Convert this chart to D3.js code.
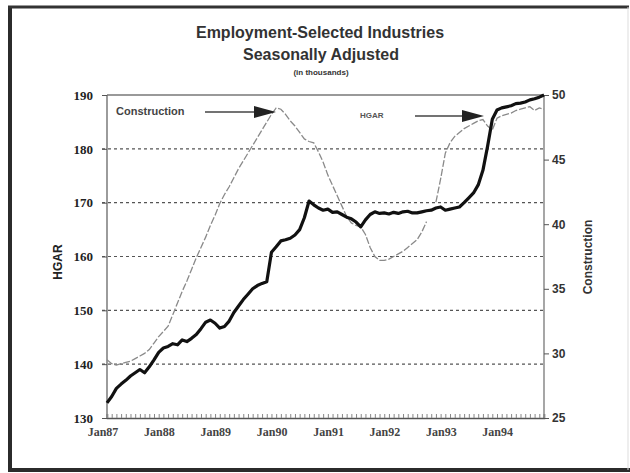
<!DOCTYPE html>
<html><head><meta charset="utf-8">
<script src="https://cdn.jsdelivr.net/npm/d3@7"></script>
<style>body{margin:0;background:#fff}svg{display:block}</style>
</head><body>
<svg id="c" width="630" height="473"></svg>
<script>
// ---- data ----
const startMonth = "1987-01";
const hgar = [132.8,134.0,135.5,136.3,137.0,137.8,138.4,139.0,138.4,139.5,140.8,142.2,
143.0,143.3,143.8,143.6,144.5,144.2,144.8,145.5,146.6,147.8,148.2,147.6,
146.7,147.0,148.0,149.6,150.8,152.0,153.0,154.0,154.6,155.0,155.3,160.8,
161.8,162.9,163.1,163.4,164.0,165.0,167.2,170.3,169.6,169.0,168.6,168.8,
168.2,168.3,167.8,167.3,167.0,166.4,165.5,166.8,167.8,168.3,168.0,168.1,
167.9,168.2,168.0,168.3,168.4,168.1,168.1,168.3,168.5,168.6,169.0,169.2,
168.6,168.8,169.0,169.2,170.0,170.9,171.8,173.3,176.0,180.5,185.5,187.2,
187.6,187.8,188.0,188.4,188.5,188.7,189.1,189.3,189.6,190.0];
const construction = [29.5,29.2,29.1,29.2,29.3,29.4,29.6,29.8,30.0,30.3,30.8,31.3,
31.7,32.1,33.0,33.9,34.8,35.6,36.5,37.4,38.2,39.0,39.9,40.7,
41.6,42.3,42.9,43.6,44.3,44.9,45.5,46.1,46.7,47.3,47.9,48.5,
49.0,48.9,48.5,48.0,47.6,47.1,46.6,46.4,46.3,45.6,44.8,43.8,
43.0,42.2,41.4,40.6,40.1,39.9,39.8,39.2,38.2,37.5,37.2,37.2,
37.3,37.5,37.7,37.9,38.2,38.5,38.8,39.4,40.2,null,41.7,43.5,
45.5,46.3,46.8,47.1,47.4,47.6,47.8,48.0,48.1,47.6,47.3,48.2,
48.4,48.5,48.6,48.8,48.9,49.0,49.1,48.8,49.0,48.9];
const xTickLabels = ["Jan87","Jan88","Jan89","Jan90","Jan91","Jan92","Jan93","Jan94"];
const leftTicks = [130,140,150,160,170,180,190];
const rightTicks = [25,30,35,40,45,50];
const titleLines = ["Employment-Selected Industries","Seasonally Adjusted"];
const subtitle = "(in thousands)";
const leftTitle = "HGAR";
const rightTitle = "Construction";

// ---- layout ----
const svg = d3.select("#c");
const L = 107, R = 544, T = 95, B = 418;
const n = hgar.length;
const x = d3.scaleLinear().domain([0, n - 1]).range([L, R]);
const yL = d3.scaleLinear().domain([130, 190]).range([B, T]);
const yR = d3.scaleLinear().domain([25, 50]).range([B, T]);

// outer frame
svg.append("line").attr("x1",10).attr("y1",6).attr("x2",10).attr("y2",470).attr("stroke","#2b2b2b").attr("stroke-width",4);
svg.append("line").attr("x1",8).attr("y1",7).attr("x2",629).attr("y2",7).attr("stroke","#333").attr("stroke-width",3);
svg.append("line").attr("x1",8).attr("y1",470).attr("x2",630).attr("y2",470).attr("stroke","#2b2b2b").attr("stroke-width",4);
svg.append("line").attr("x1",628).attr("y1",7).attr("x2",628).attr("y2",470).attr("stroke","#ddd").attr("stroke-width",1);

// title
const sans = "'Liberation Sans', Arial, sans-serif";
const serif = "'Liberation Serif', 'Times New Roman', serif";
svg.append("text").attr("x",320).attr("y",38).attr("text-anchor","middle")
  .attr("font-family",sans).attr("font-weight","bold").attr("font-size",16).attr("fill","#333").text(titleLines[0]);
svg.append("text").attr("x",321).attr("y",60).attr("text-anchor","middle")
  .attr("font-family",sans).attr("font-weight","bold").attr("font-size",16).attr("fill","#333").text(titleLines[1]);
svg.append("text").attr("x",321).attr("y",75).attr("text-anchor","middle")
  .attr("font-family",sans).attr("font-weight","bold").attr("font-size",8).attr("fill","#333").text(subtitle);

// gridlines (left axis)
svg.append("g").selectAll("line").data(leftTicks.filter(d => d > 130 && d < 190)).join("line")
  .attr("x1",102).attr("x2",R).attr("y1",d=>yL(d)).attr("y2",d=>yL(d))
  .attr("stroke","#555").attr("stroke-width",1.2).attr("stroke-dasharray","3,3");

// plot frame: top, left, right, bottom
svg.append("line").attr("x1",L).attr("x2",R).attr("y1",T).attr("y2",T).attr("stroke","#999").attr("stroke-width",2);
svg.append("line").attr("x1",L).attr("x2",L).attr("y1",T).attr("y2",B).attr("stroke","#666").attr("stroke-width",1.3);
svg.append("line").attr("x1",R).attr("x2",R).attr("y1",T).attr("y2",B).attr("stroke","#777").attr("stroke-width",1.3);

// left axis
const gl = svg.append("g").attr("transform",`translate(${L},0)`)
  .call(d3.axisLeft(yL).tickValues(leftTicks).tickSize(5).tickFormat(d3.format("d")));
gl.select(".domain").remove();
gl.selectAll("line").attr("stroke","#555");
gl.selectAll("text").attr("font-family",serif).attr("font-weight","bold").attr("font-size",13).attr("fill","#222").attr("dx",-6);

// right axis
const gr = svg.append("g").attr("transform",`translate(${R},0)`)
  .call(d3.axisRight(yR).tickValues(rightTicks).tickSize(5));
gr.select(".domain").remove();
gr.selectAll("line").attr("stroke","#555");
gr.selectAll("text").attr("font-family",sans).attr("font-weight","bold").attr("font-size",12).attr("fill","#333").attr("dx",0);

// bottom axis with monthly ticks
const gb = svg.append("g").attr("transform",`translate(0,${B})`)
  .call(d3.axisTop(x).tickValues(d3.range(0, n)).tickSize(4).tickFormat(""));
gb.select(".domain").attr("stroke","#555").attr("stroke-width",1.5);
gb.selectAll(".tick line").attr("stroke","#888");
svg.append("g").selectAll("text").data(xTickLabels).join("text")
  .attr("x",(d,i)=>x(i*12)-4).attr("y",436).attr("text-anchor","middle")
  .attr("font-family",serif).attr("font-weight","bold").attr("font-size",12).attr("fill","#444")
  .text(d=>d);

// axis titles
svg.append("text").attr("transform","translate(62,262) rotate(-90)").attr("text-anchor","middle")
  .attr("font-family",sans).attr("font-weight","bold").attr("font-size",12).attr("fill","#222").text(leftTitle);
svg.append("text").attr("transform","translate(592,257) rotate(-90)").attr("text-anchor","middle")
  .attr("font-family",sans).attr("font-weight","bold").attr("font-size",12).attr("fill","#333").text(rightTitle);

// lines
const lineC = d3.line().defined(d=>d!=null).x((d,i)=>x(i)).y(d=>yR(d));
svg.append("path").datum(construction).attr("d",lineC).attr("fill","none")
  .attr("stroke","#8a8a8a").attr("stroke-width",1.3).attr("stroke-dasharray","7,2");
const lineH = d3.line().x((d,i)=>x(i)).y(d=>yL(d));
svg.append("path").datum(hgar).attr("d",lineH).attr("fill","none")
  .attr("stroke","#111").attr("stroke-width",3.2).attr("stroke-linejoin","round");

// annotations
function arrow(x1, x2, y) {
  svg.append("line").attr("x1",x1).attr("x2",x2-18).attr("y1",y).attr("y2",y).attr("stroke","#444").attr("stroke-width",1.5);
  svg.append("path").attr("d",`M${x2},${y} L${x2-22},${y-6} L${x2-22},${y+6} Z`).attr("fill","#222");
}
svg.append("text").attr("x",116).attr("y",115).attr("font-family",sans).attr("font-weight","bold")
  .attr("font-size",11).attr("fill","#444").text("Construction");
arrow(205, 276, 112);
svg.append("text").attr("x",360).attr("y",118).attr("font-family",sans).attr("font-weight","bold")
  .attr("font-size",8).attr("fill","#555").text("HGAR");
arrow(415, 484, 116);
</script>
</body></html>
